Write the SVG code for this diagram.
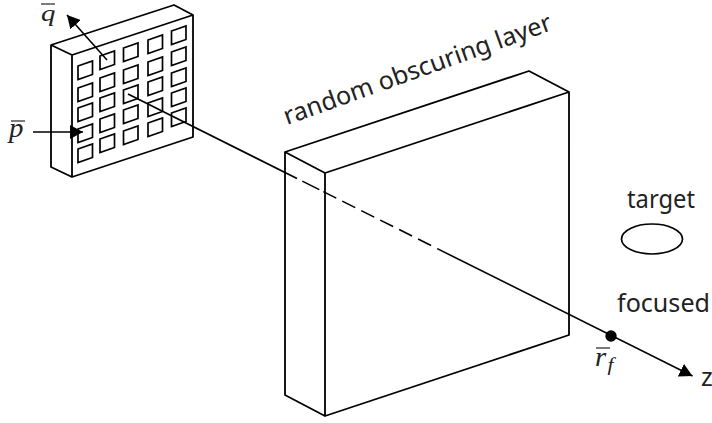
<svg xmlns="http://www.w3.org/2000/svg" width="712" height="423" viewBox="0 0 712 423">
<style>
.s{fill:none;stroke:#000;stroke-width:1.8;stroke-linejoin:round}
.w{fill:none;stroke:#000;stroke-width:1.7}
.c{stroke:#000;stroke-width:1.6;fill:none}
.b{stroke:#222;stroke-width:1.2;fill:none}
.t{font-family:"Noto Sans",sans-serif;font-size:25px;fill:#222}
.m{font-family:"Liberation Serif",serif;font-style:italic;font-size:24px;fill:#222}
</style>
<defs>
<marker id="a" markerUnits="userSpaceOnUse" markerWidth="14" markerHeight="14" refX="13" refY="7" orient="auto"><path d="M0 0L13 7L0 14Z" fill="#000"/></marker>
<path id="win" d="M0 0L14.500 -5V8.500L0 13.500Z"/>
</defs>
<rect width="712" height="423" fill="#fff"/>
<g id="array">
<path class="s" d="M51 45L72 55L193 15L174 5ZM72 55V177M51 45V167L72 177L193 137V15"/>
<g class="w">
<use href="#win" x="78" y="66"/><use href="#win" x="78" y="88"/><use href="#win" x="78" y="108"/><use href="#win" x="78" y="129"/><use href="#win" x="78" y="149"/>
<use href="#win" x="100" y="56"/><use href="#win" x="100" y="78"/><use href="#win" x="100" y="98"/><use href="#win" x="100" y="119"/><use href="#win" x="100" y="139"/>
<use href="#win" x="123.500" y="48"/><use href="#win" x="123.500" y="70"/><use href="#win" x="123.500" y="90"/><use href="#win" x="123.500" y="110"/><use href="#win" x="123.500" y="131"/>
<use href="#win" x="148" y="40"/><use href="#win" x="148" y="62"/><use href="#win" x="148" y="82"/><use href="#win" x="148" y="103"/><use href="#win" x="148" y="123"/>
<use href="#win" x="171.500" y="31"/><use href="#win" x="171.500" y="52"/><use href="#win" x="171.500" y="73"/><use href="#win" x="171.500" y="93"/><use href="#win" x="171.500" y="113"/>
</g>
</g>
<g id="layer">
<path class="s" d="M285 152L325 173L569 92L529 71ZM325 173V416M285 152V395L325 416L569 335V92"/>
</g>
<g id="connectors">
<path class="c" d="M128 94L297 178.500"/>
<path class="c" d="M302.300 181.150L319.300 189.650"/>
<path class="c" stroke-dasharray="14.500 6.700" d="M323.300 191.650L437.300 248.650"/>
<path class="c" d="M437.300 248.650L692.500 376" marker-end="url(#a)"/>
<path class="c" d="M107 60L67 15" marker-end="url(#a)"/>
<path class="c" d="M33 132L83 132" marker-end="url(#a)"/>
</g>
<circle id="focus" cx="611" cy="336" r="5.700" fill="#000"/>
<g id="target"><ellipse cx="652" cy="239" rx="30.500" ry="15" fill="none" stroke="#000" stroke-width="1.700"/></g>
<g id="labels">
<text class="m" font-size="23" style="font-size:23px" transform="translate(41 21) scale(1.25 1)">q</text><path class="b" d="M41 4H55"/>
<text class="m" transform="translate(9 137) scale(1.2 1.1)">p</text><path class="b" d="M11 121H25"/>
<text class="t" transform="translate(287 125) rotate(-19.700)" textLength="283" lengthAdjust="spacingAndGlyphs">random obscuring layer</text>
<text class="t" x="627" y="208" textLength="68" lengthAdjust="spacingAndGlyphs">target</text>
<text class="t" x="617" y="312" textLength="93" lengthAdjust="spacingAndGlyphs">focused</text>
<text class="m" transform="translate(595 366) scale(1.2 1.1)">r<tspan font-size="18" dx="1" dy="4.500">f</tspan></text><path class="b" d="M596 348H610"/>
<text class="t" x="701" y="386">z</text>
</g>
</svg>
